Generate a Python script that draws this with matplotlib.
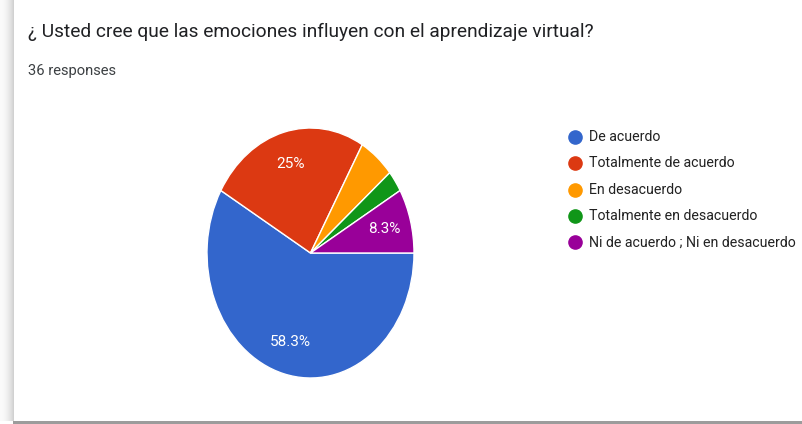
import matplotlib
matplotlib.use("Agg")
import matplotlib.pyplot as plt
from matplotlib.patches import Rectangle
import numpy as np

title = "¿ Usted cree que las emociones influyen con el aprendizaje virtual?"
subtitle = "36 responses"
categories = ["De acuerdo", "Totalmente de acuerdo", "En desacuerdo",
              "Totalmente en desacuerdo", "Ni de acuerdo ; Ni en desacuerdo"]
counts = [21, 9, 2, 1, 3]
colors = ["#3366CC", "#DC3912", "#FF9900", "#109618", "#990099"]

W, H = 803, 424
fig = plt.figure(figsize=(W / 100, H / 100), dpi=100)
fig.patch.set_facecolor("white")

# overlay axes in pixel coordinates
ov = fig.add_axes([0, 0, 1, 1])
ov.set_xlim(0, W)
ov.set_ylim(H, 0)
ov.axis("off")

# left shadow gradient
for i in range(14):
    a = 0.02 + 0.16 * (i / 13) ** 2
    ov.add_patch(Rectangle((i, 0), 1, H - 3, color="black", alpha=a, lw=0))
# bottom bar
ov.add_patch(Rectangle((13, H - 3.5), W - 13, 3.5, color="#9c9c9c", lw=0))

ov.text(28, 32, title, fontsize=13.8, family=["Roboto", "DejaVu Sans"],
        color="#202124", va="center", ha="left")
ov.text(28, 71, subtitle, fontsize=10.6, family=["Roboto", "DejaVu Sans"],
        color="#3c4043", va="center", ha="left")

# legend
leg_y0, leg_dy = 137, 26.3
for i, (lab, col) in enumerate(zip(categories, colors)):
    y = leg_y0 + i * leg_dy
    ov.plot([575], [y], marker="o", ms=9.5, color=col, mec=col)
    ov.text(589, y, lab, fontsize=10.2, family=["Roboto", "DejaVu Sans"],
            color="#222222", va="center", ha="left")

# pie axes
px0, px1, py0, py1 = 207, 414, 128, 378
ax = fig.add_axes([px0 / W, (H - py1) / H, (px1 - px0) / W, (py1 - py0) / H])

def fmt(p):
    if p < 8:
        return ""
    s = f"{p:.1f}"
    if s.endswith(".0"):
        s = s[:-2]
    return s + "%"

wedges, texts, autotexts = ax.pie(
    counts, colors=colors, startangle=0, counterclock=False,
    autopct=fmt, pctdistance=0.74,
    wedgeprops=dict(edgecolor="white", linewidth=1),
    textprops=dict(color="white", fontsize=11, family=["Roboto", "DejaVu Sans"]))
ax.set_aspect("auto")
ax.set_xlim(-1, 1)
ax.set_ylim(-1, 1)
ax.axis("off")

fig.savefig("out.png", dpi=100, facecolor="white")
